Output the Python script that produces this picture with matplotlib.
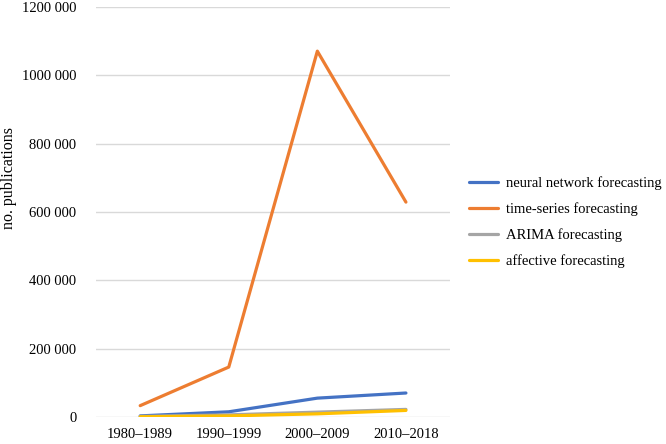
import matplotlib.pyplot as plt
from matplotlib.ticker import FuncFormatter

plt.rcParams['font.family'] = ['Liberation Serif', 'DejaVu Serif']

periods = ["1980–1989", "1990–1999", "2000–2009", "2010–2018"]
neural = [3000, 15000, 55000, 70000]
timeseries = [33000, 146000, 1071000, 629000]
arima = [1500, 6000, 14000, 22000]
affective = [500, 3000, 9000, 19000]

names = ["neural network forecasting", "time-series forecasting",
         "ARIMA forecasting", "affective forecasting"]
colors = ["#4472C4", "#ED7D31", "#A5A5A5", "#FFC000"]

fig = plt.figure(figsize=(6.66, 4.44), dpi=100)
ax = fig.add_axes([0.144, 0.061, 0.532, 0.923])

x = range(len(periods))
for vals, name, c in zip([neural, timeseries, arima, affective], names, colors):
    ax.plot(x, vals, color=c, lw=2.3, label=name, solid_capstyle='round')

def fmt(v, pos):
    v = int(round(v))
    if v == 0:
        return "0"
    s = str(v)
    return s[:-3] + " " + s[-3:]

ax.set_ylim(0, 1200000)
ax.set_yticks(range(0, 1200001, 200000))
ax.yaxis.set_major_formatter(FuncFormatter(fmt))
ax.set_xlim(-0.5, 3.5)
ax.set_xticks(list(x))
ax.set_xticklabels(periods)
ax.grid(axis='y', color='#D9D9D9', lw=1)
ax.set_axisbelow(True)
for s in ax.spines.values():
    s.set_visible(False)
ax.tick_params(length=0, labelsize=10.5)
ax.tick_params(axis='y', pad=14)
ax.tick_params(axis='x', pad=8)
ax.set_ylabel("no. publications", fontsize=11.5)
ax.yaxis.set_label_coords(-0.222, 0.583)

ax.legend(loc='center left', bbox_to_anchor=(1.037, 0.475), frameon=False,
          fontsize=10.5, handlelength=2.0, labelspacing=0.85, handletextpad=0.5,
          borderaxespad=0.0)

fig.savefig("out.png", dpi=100)
